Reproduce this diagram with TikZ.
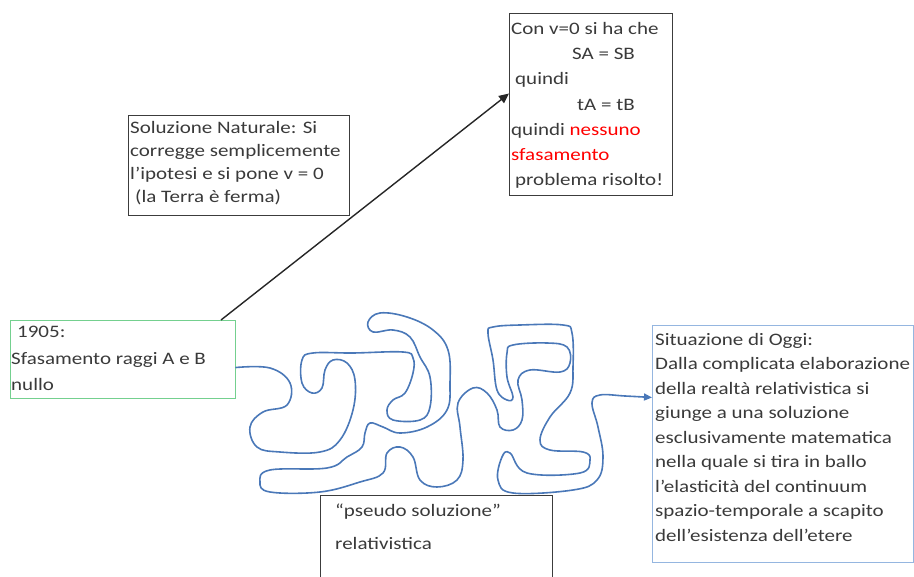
\documentclass[tikz,border=0pt]{standalone}
\usepackage{fontspec}
\setmainfont{Carlito}[FakeStretch=1.2]
\usetikzlibrary{arrows.meta}
\definecolor{txt}{HTML}{3A3A3A}
\definecolor{boxgray}{HTML}{3C3C3C}
\definecolor{boxgreen}{HTML}{74D08F}
\definecolor{boxblue}{HTML}{95B6E0}
\definecolor{squig}{HTML}{4A78B8}
\begin{document}
\begin{tikzpicture}[x=1pt,y=-1pt,
  frame/.style={draw=#1, line width=1pt, anchor=north west, inner sep=0pt},
  body/.style={anchor=base west, inner sep=0pt, align=left, text=txt,
    font=\fontsize{17.5}{#1}\selectfont},
  squigline/.style={draw=squig, line width=1.6pt, line cap=round, line join=round,
    -{Triangle[length=8pt,width=7pt]}},
  blackarrow/.style={draw=black!85, line width=1.4pt, -{Triangle[length=10pt,width=9pt]}}]
\useasboundingbox (0,0) rectangle (914,577);
\clip (0,0) rectangle (914,577);

% frames
\node[frame=boxgray, minimum width=163pt, minimum height=182pt] (topbox) at (509,13) {};
\node[frame=boxgray, minimum width=221pt, minimum height=100pt] (natbox) at (128,115) {};
\node[frame=boxgreen, minimum width=225pt, minimum height=78pt] (greenbox) at (10,320) {};
\node[frame=boxblue, minimum width=261pt, minimum height=237pt] (bluebox) at (652,325) {};
\node[frame=boxgray, minimum width=232pt, minimum height=100pt] (pseudobox) at (320,495) {};

% texts (anchored at the baseline of their last line)
\node[body=25.3] (toptxt) at (511,186) {Con v=0 si ha che\\
\hspace*{61pt}SA = SB\\
\hspace*{4pt}quindi\\
\hspace*{66pt}tA = tB\\
quindi \textcolor{red}{nessuno}\\
\textcolor{red}{sfasamento}\\
\hspace*{4pt}problema risolto!};

\node[body=23.3] (nattxt) at (130,203) {Soluzione Naturale: Si\\
corregge semplicemente\\
l’ipotesi e si pone v = 0\\
\hspace*{5pt}(la Terra è ferma)};

\node[body=26.5] (greentxt) at (11,391) {\hspace*{6pt}1905:\\
Sfasamento raggi A e B\\
nullo};

\node[body=24.5] (bluetxt) at (655,541) {Situazione di Oggi:\\
Dalla complicata elaborazione\\
della realtà relativistica si\\
giunge a una soluzione\\
esclusivamente matematica\\
nella quale si tira in ballo\\
l’elasticità del continuum\\
spazio-temporale a scapito\\
dell’esistenza dell’etere};

\node[body=33] (pseudotxt) at (335,550) {“pseudo soluzione”\\
relativistica};

% black arrow
\coordinate (a0) at ([xshift=-15pt]greenbox.north east);
\coordinate (a1) at ([yshift=11pt]topbox.west);
\draw[blackarrow] (a0) -- (a1);

% squiggle
\coordinate (s0) at ([yshift=-8pt]greenbox.east);
\coordinate (s1) at ([yshift=46.5pt]bluebox.west);
\draw[squigline] plot[smooth, tension=0.65] coordinates {
(s0) (270,368) (290,383) (287,405) (263,412) (250,427) (257,447) (280,452)
(320,452) (340,440) (353,410) (355,380) (347,363) (333,360) (325,370) (322,388)
(312,393) (302,383) (302,360) (313,353) (353,353) (403,352) (413,358) (413,373)
(405,393) (393,400) (387,410) (393,420) (420,420) (430,407) (430,377) (420,357)
(410,337) (393,330) (373,332) (368,322) (380,313) (407,317) (433,330) (448,350)
(450,383) (447,410) (427,427) (400,433) (383,427) (370,423) (365,433) (362,447)
(347,457) (327,468) (270,470) (260,482) (270,492) (320,492) (360,482) (383,473)
(387,453) (400,447) (413,457) (420,480) (437,487) (457,480) (463,460) (460,427)
(458,403) (473,388) (487,393) (497,410) (500,427) (513,430) (522,420) (522,400)
(518,380) (530,370) (560,372) (570,363) (567,347) (547,343) (513,345) (507,353)
(507,377) (513,397) (507,400) (497,390) (493,360) (488,333) (493,327) (520,325)
(563,325) (572,333) (573,367) (570,393) (550,417) (540,440) (550,450) (583,452)
(590,460) (580,473) (527,473) (510,453) (502,457) (498,480) (513,493) (573,490)
(597,480) (603,457) (598,427) (592,403) (600,395) (625,396) (s1)};
\end{tikzpicture}
\end{document}
